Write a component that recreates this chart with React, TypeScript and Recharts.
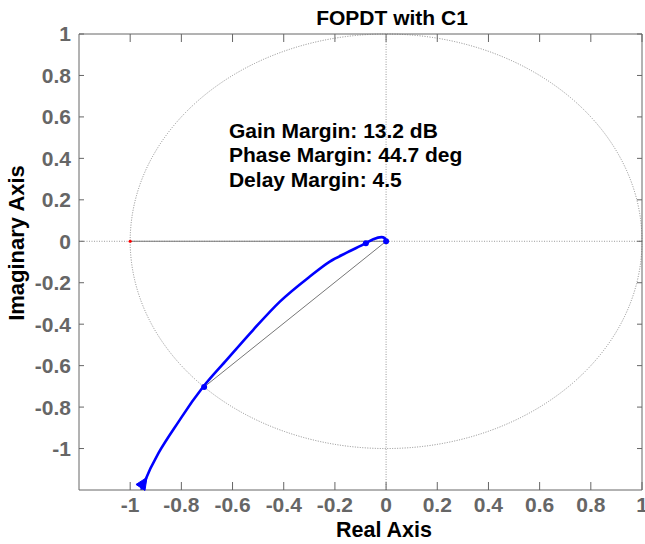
import React from 'react';
import {
  ComposedChart,
  Line,
  XAxis,
  YAxis,
  ReferenceLine,
  ReferenceDot,
  ReferenceArea,
} from 'recharts';

const nyquistRe = [-0.957, -0.95, -0.801, -0.714, -0.623, -0.519, -0.415, -0.298, -0.22, -0.154, -0.079, -0.05, -0.018, -0.005, 0];
const nyquistIm = [-1.2, -1.178, -0.852, -0.701, -0.572, -0.427, -0.291, -0.17, -0.098, -0.055, -0.009, 0.01, 0.02, 0.015, 0];

const xTicks = [-1, -0.8, -0.6, -0.4, -0.2, 0, 0.2, 0.4, 0.6, 0.8, 1];
const yTicks = [-1, -0.8, -0.6, -0.4, -0.2, 0, 0.2, 0.4, 0.6, 0.8, 1];

const marginLines = ['Gain Margin: 13.2 dB', 'Phase Margin: 44.7 deg', 'Delay Margin: 4.5'];
const phaseCross = { x: -0.711, y: -0.703 };
const gainCross = { x: -0.079, y: -0.009 };

const curve = nyquistRe.map((re, i) => ({ re, im: nyquistIm[i] }));

const AXIS = '#666666';
const tickStyle = { fill: AXIS, fontSize: 21, fontWeight: 'bold' };
const fmt = (v: number) => String(v);

// box ticks on the top and right sides, pointing into the plot
const TopTick = (p: any) => (
  <line x1={p.x} x2={p.x} y1={p.y} y2={p.y + 8} stroke={AXIS} strokeWidth={1} />
);
const RightTick = (p: any) => (
  <line x1={p.x - 5} x2={p.x} y1={p.y} y2={p.y} stroke={AXIS} strokeWidth={1} />
);

const UnitCircle = (p: any) => (
  <ellipse
    cx={p.x + p.width / 2}
    cy={p.y + p.height / 2}
    rx={p.width / 2}
    ry={p.height / 2}
    fill="none"
    stroke="#8a8a8a"
    strokeWidth={1}
    strokeDasharray="1 1.5"
  />
);

const Arrow = (p: any) => {
  const { cx, cy } = p;
  // head pointing up-right along the curve
  return (
    <polygon
      points={`${cx + 4},${cy - 8} ${cx - 7},${cy - 1} ${cx + 2},${cy + 5}`}
      fill="#0000ff"
      stroke="#0000ff"
    />
  );
};

const MarginText = (p: any) => (
  <g>
    {marginLines.map((t, i) => (
      <text key={t} x={p.cx} y={p.cy + i * 24.5} fontSize={21} fontWeight="bold" fill="#000">
        {t}
      </text>
    ))}
  </g>
);

export default function App() {
  return (
    <div
      style={{
        position: 'absolute',
        left: 0,
        top: 0,
        width: 645,
        height: 544,
        background: '#fff',
        fontFamily: '"Liberation Sans", Arial, sans-serif',
      }}
    >
      <ComposedChart width={645} height={544} margin={{ top: 30, right: 0, bottom: 0, left: 0 }}>
        <XAxis
          type="number"
          dataKey="re"
          domain={[-1.2, 1]}
          ticks={xTicks}
          interval={0}
          allowDataOverflow
          height={54}
          tickSize={-8}
          tickMargin={15}
          stroke={AXIS}
          tick={tickStyle}
          tickFormatter={fmt}
        />
        <XAxis
          xAxisId="top"
          orientation="top"
          type="number"
          dataKey="re"
          domain={[-1.2, 1]}
          ticks={xTicks}
          interval={0}
          allowDataOverflow
          height={4}
          tickSize={0}
          tickMargin={0}
          tickLine={false}
          stroke={AXIS}
          tick={TopTick}
        />
        <YAxis
          type="number"
          domain={[-1.2, 1]}
          ticks={yTicks}
          interval={0}
          allowDataOverflow
          width={79}
          tickSize={-5}
          tickMargin={13}
          stroke={AXIS}
          tick={tickStyle}
          tickFormatter={fmt}
        />
        <YAxis
          yAxisId="right"
          orientation="right"
          type="number"
          domain={[-1.2, 1]}
          ticks={yTicks}
          interval={0}
          allowDataOverflow
          width={3}
          tickSize={0}
          tickMargin={0}
          tickLine={false}
          stroke={AXIS}
          tick={RightTick}
        />

        <ReferenceArea x1={-1} x2={1} y1={-1} y2={1} shape={UnitCircle} ifOverflow="visible" />
        <ReferenceLine y={0} stroke="#9a9a9a" strokeDasharray="1 1.5" />
        <ReferenceLine x={0} stroke="#9a9a9a" strokeDasharray="1 1.5" />
        <ReferenceLine segment={[{ x: -1, y: 0 }, { x: 0, y: 0 }]} stroke="#777" strokeWidth={1.2} />
        <ReferenceLine segment={[{ x: 0, y: 0 }, phaseCross]} stroke="#777" strokeWidth={1} />

        {/* invisible copy so the box axes get a domain */}
        <Line
          xAxisId="top"
          yAxisId="right"
          data={curve}
          dataKey="im"
          stroke="none"
          dot={false}
          activeDot={false}
          legendType="none"
          isAnimationActive={false}
        />
        <Line
          data={curve}
          dataKey="im"
          type="monotoneX"
          stroke="#0000ff"
          strokeWidth={2.6}
          dot={false}
          activeDot={false}
          isAnimationActive={false}
        />

        <ReferenceDot x={-1} y={0} r={1.6} fill="#ff0000" stroke="none" />
        <ReferenceDot x={0} y={0} r={3} fill="#0000ff" stroke="none" />
        <ReferenceDot x={gainCross.x} y={gainCross.y} r={3} fill="#0000ff" stroke="none" />
        <ReferenceDot x={phaseCross.x} y={phaseCross.y} r={3} fill="#0000ff" stroke="none" />
        <ReferenceDot x={nyquistRe[1]} y={nyquistIm[1]} r={0} shape={Arrow} />
        <ReferenceDot x={-0.614} y={0.499} r={0} shape={MarginText} ifOverflow="visible" />
      </ComposedChart>

      <svg
        width={645}
        height={544}
        style={{ position: 'absolute', left: 0, top: 0, pointerEvents: 'none' }}
      >
        <text x={392} y={25} textAnchor="middle" fontSize={21} fontWeight="bold" fill="#000">
          FOPDT with C1
        </text>
        <text x={384} y={537} textAnchor="middle" fontSize={21.5} fontWeight="bold" fill="#000">
          Real Axis
        </text>
        <text
          x={24}
          y={243}
          textAnchor="middle"
          fontSize={22}
          fontWeight="bold"
          fill="#000"
          transform="rotate(-90 24 243)"
        >
          Imaginary Axis
        </text>
      </svg>
    </div>
  );
}
